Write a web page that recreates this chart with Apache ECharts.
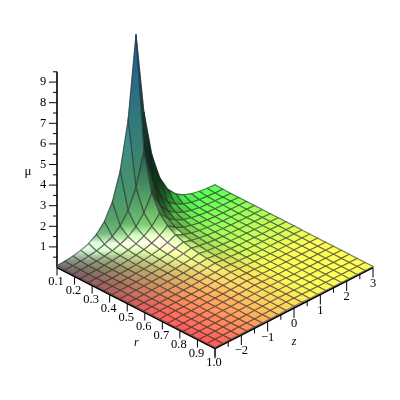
<!DOCTYPE html>
<html><head><meta charset="utf-8">
<style>html,body{margin:0;padding:0;background:#fff}#c{width:400px;height:400px}</style>
<script src="https://cdn.jsdelivr.net/npm/echarts@6/dist/echarts.min.js"></script>
</head><body><div id="c"></div>
<script>
const rValues=[0.1,0.145,0.19,0.235,0.28,0.325,0.37,0.415,0.46,0.505,0.55,0.595,0.64,0.685,0.73,0.775,0.82,0.865,0.91,0.955,1.0];
const zValues=[-3,-2.7,-2.4,-2.1,-1.8,-1.5,-1.2,-0.9,-0.6,-0.3,0,0.3,0.6,0.9,1.2,1.5,1.8,2.1,2.4,2.7,3];
const muGrid=[
[.09,.11,.16,.24,.38,.63,1.06,1.81,3.12,5.39,9.35,5.39,3.12,1.81,1.06,.63,.38,.24,.16,.11,.09],
[.07,.08,.11,.15,.21,.33,.52,.84,1.39,2.31,3.86,2.31,1.39,.84,.52,.33,.21,.15,.11,.08,.07],
[.06,.07,.09,.11,.15,.22,.33,.51,.80,1.27,2.04,1.27,.80,.51,.33,.22,.15,.11,.09,.07,.06],
[.06,.07,.08,.10,.13,.18,.25,.36,.54,.82,1.25,.82,.54,.36,.25,.18,.13,.10,.08,.07,.06],
[.06,.07,.08,.09,.11,.15,.20,.27,.39,.57,.84,.57,.39,.27,.20,.15,.11,.09,.08,.07,.06],
[.06,.07,.07,.09,.10,.13,.17,.22,.30,.42,.60,.42,.30,.22,.17,.13,.10,.09,.07,.07,.06],
[.06,.07,.07,.08,.10,.12,.15,.19,.25,.33,.45,.33,.25,.19,.15,.12,.10,.08,.07,.07,.06],
[.06,.07,.07,.08,.09,.11,.13,.16,.21,.27,.36,.27,.21,.16,.13,.11,.09,.08,.07,.07,.06],
[.06,.06,.07,.08,.09,.10,.12,.14,.18,.22,.29,.22,.18,.14,.12,.10,.09,.08,.07,.06,.06],
[.06,.06,.07,.07,.08,.09,.11,.13,.16,.19,.24,.19,.16,.13,.11,.09,.08,.07,.07,.06,.06],
[.06,.06,.06,.07,.08,.09,.10,.12,.14,.17,.21,.17,.14,.12,.10,.09,.08,.07,.06,.06,.06],
[.05,.06,.06,.07,.07,.08,.09,.11,.13,.15,.18,.15,.13,.11,.09,.08,.07,.07,.06,.06,.05],
[.05,.06,.06,.07,.07,.08,.09,.10,.12,.14,.16,.14,.12,.10,.09,.08,.07,.07,.06,.06,.05],
[.05,.06,.06,.06,.07,.08,.08,.09,.11,.12,.14,.12,.11,.09,.08,.08,.07,.06,.06,.06,.05],
[.05,.05,.06,.06,.07,.07,.08,.09,.10,.11,.13,.11,.10,.09,.08,.07,.07,.06,.06,.05,.05],
[.05,.05,.06,.06,.06,.07,.08,.08,.09,.10,.12,.10,.09,.08,.08,.07,.06,.06,.06,.05,.05],
[.05,.05,.06,.06,.06,.07,.07,.08,.09,.10,.11,.10,.09,.08,.07,.07,.06,.06,.06,.05,.05],
[.05,.05,.05,.06,.06,.06,.07,.08,.08,.09,.10,.09,.08,.08,.07,.06,.06,.06,.05,.05,.05],
[.05,.05,.05,.06,.06,.06,.07,.07,.08,.09,.10,.09,.08,.07,.07,.06,.06,.06,.05,.05,.05],
[.05,.05,.05,.05,.06,.06,.06,.07,.08,.08,.09,.08,.08,.07,.06,.06,.06,.05,.05,.05,.05],
[.05,.05,.05,.05,.06,.06,.06,.07,.07,.08,.09,.08,.07,.07,.06,.06,.06,.05,.05,.05,.05]
];
const rTicks=[0.1,0.2,0.3,0.4,0.5,0.6,0.7,0.8,0.9,1.0];
const rTickLabels=['0.1','0.2','0.3','0.4','0.5','0.6','0.7','0.8','0.9','1.0'];
const zMajorTicks=[-3,-2,-1,0,1,2,3];
const zTickLabels=['','\u22122','\u22121','0','1','2','3'];
const zMinorTicks=[-2.5,-1.5,-0.5,0.5,1.5,2.5];
const muMajorTicks=[1,2,3,4,5,6,7,8,9];
const muMinorTicks=[0.5,1.5,2.5,3.5,4.5,5.5,6.5,7.5,8.5,9.5];

// oblique view of the box: screen position of (r,z,mu)
const VIEW={ox:57,oy:267.5,dx:158,dy:81,muPx:20.6,muTop:9.5};
const R0=rValues[0],R1=rValues[rValues.length-1],Z0=zValues[0],Z1=zValues[zValues.length-1];
function project(r,z,m){
  const u=(r-R0)/(R1-R0),v=(z-Z0)/(Z1-Z0);
  return [VIEW.ox+VIEW.dx*(u+v),VIEW.oy+VIEW.dy*(u-v)-m*VIEW.muPx];
}
// lighting
const LIGHT={L:[0.2,-0.45,0.87],H:[0.3,-0.25,0.9],amb:0.25,kd:0.86,kw:0.4,ks:0.65,n:18,back:0.2,sx:248,sy:37.2,sz:24};
const muMax=9.4;
function norm(a){const l=Math.hypot(a[0],a[1],a[2]);return a.map(v=>v/l);}
const Ln=norm(LIGHT.L),Hn=norm(LIGHT.H);
function vertexColor(i,j){
  const ni=rValues.length,nj=zValues.length;
  const i0=Math.max(i-1,0),i1=Math.min(i+1,ni-1),j0=Math.max(j-1,0),j1=Math.min(j+1,nj-1);
  const dr=(muGrid[i1][j]-muGrid[i0][j])*LIGHT.sz/((rValues[i1]-rValues[i0])*LIGHT.sx);
  const dz=(muGrid[i][j1]-muGrid[i][j0])*LIGHT.sz/((zValues[j1]-zValues[j0])*LIGHT.sy);
  const N=norm([-dr,-dz,1]);
  const D=Math.max(0,N[0]*Ln[0]+N[1]*Ln[1]+N[2]*Ln[2]-LIGHT.back*Math.max(0,N[1]));
  const S=Math.pow(Math.max(0,N[0]*Hn[0]+N[1]*Hn[1]+N[2]*Hn[2]),LIGHT.n);
  const flatS=Math.pow(Hn[2],LIGHT.n);
  const base=[(rValues[i]-R0)/(R1-R0),(zValues[j]-Z0)/(Z1-Z0),muGrid[i][j]/muMax];
  const sp=LIGHT.ks*Math.max(0,S-flatS);
  return base.map(b=>Math.min(1,b*(LIGHT.amb+LIGHT.kd*D)+LIGHT.kw*D+sp));
}
function css(c){return 'rgb('+c.map(v=>Math.round(v*255)).join(',')+')';}
function mix(a,b){return a.map((v,k)=>(v+b[k])/2);}

const cells=[];
for(let i=0;i<rValues.length-1;i++)for(let j=zValues.length-2;j>=0;j--)cells.push([i,j]);

function renderCell(params,api){
  const i=api.value(0),j=api.value(1);
  const ids=[[i,j],[i+1,j],[i+1,j+1],[i,j+1]];
  const pts=ids.map(q=>api.coord(project(rValues[q[0]],zValues[q[1]],muGrid[q[0]][q[1]])));
  const cols=ids.map(q=>vertexColor(q[0],q[1]));
  const top=pts.reduce((a,p,k)=>p[1]<pts[a][1]?k:a,0),bot=pts.reduce((a,p,k)=>p[1]>pts[a][1]?k:a,0);
  const rest=[0,1,2,3].filter(k=>k!==top&&k!==bot);
  const midCol=rest.length===2?mix(cols[rest[0]],cols[rest[1]]):mix(cols[top],cols[bot]);
  const grad=new echarts.graphic.LinearGradient(pts[top][0],pts[top][1],pts[bot][0],pts[bot][1],[
    {offset:0,color:css(cols[top])},{offset:0.5,color:css(midCol)},{offset:1,color:css(cols[bot])}],true);
  return {type:'group',children:[
    {type:'polygon',shape:{points:pts},style:{fill:grad,stroke:grad,lineWidth:0.6}},
    {type:'polygon',shape:{points:pts},style:{fill:'none',stroke:'rgba(40,40,40,0.6)',lineWidth:1.15}}
  ]};
}
const axisSegs=[];
const addSeg=(a,b,w)=>axisSegs.push({a,b,w});
const addText=(p,t,font)=>axisSegs.push({p,t,font});
const TICK=8,MINOR=4,ZTICK=10,ZMINOR=5;
addSeg(project(R0,Z0,0),project(R1,Z0,0),1.6);
addSeg(project(R1,Z0,0),project(R1,Z1,0),1.6);
addSeg(project(R0,Z0,0),project(R0,Z0,VIEW.muTop),1.6);
rTicks.forEach((r,k)=>{const p=project(r,Z0,0);addSeg(p,[p[0],p[1]+TICK],1);addText([p[0]-1,p[1]+14.5],rTickLabels[k]);});
zMajorTicks.forEach((z,k)=>{const p=project(R1,z,0);addSeg(p,[p[0],p[1]+ZTICK],1);if(zTickLabels[k])addText([p[0],p[1]+16],zTickLabels[k]);});
zMinorTicks.forEach(z=>{const p=project(R1,z,0);addSeg(p,[p[0],p[1]+ZMINOR],1);});
muMajorTicks.forEach(m=>{const p=project(R0,Z0,m);addSeg(p,[p[0]-TICK,p[1]],1);addText([p[0]-14,p[1]],String(m));});
muMinorTicks.forEach(m=>{const p=project(R0,Z0,m);addSeg(p,[p[0]-MINOR,p[1]],1);});
addText(project(0.5,-3,0).map((v,k)=>v+[9,39][k]),'r','italic 12px "Liberation Serif"');
addText(project(1,0,0).map((v,k)=>v+[0,34][k]),'z','italic 12px "Liberation Serif"');
addText(project(R0,Z0,4.65).map((v,k)=>v+[-29,0][k]),'\u03bc','13px "Liberation Serif"');

function renderAxis(params,api){
  const s=axisSegs[api.value(0)];
  if(s.t!==undefined){
    const c=api.coord(s.p);
    return {type:'text',x:c[0],y:c[1],style:{text:s.t,font:s.font||'12.5px "Liberation Serif"',fill:'#000',align:'center',verticalAlign:'middle'}};
  }
  const a=api.coord(s.a),b=api.coord(s.b);
  return {type:'line',shape:{x1:a[0],y1:a[1],x2:b[0],y2:b[1]},style:{stroke:'#000',lineWidth:s.w}};
}
const chart=echarts.init(document.getElementById('c'),null,{renderer:'canvas'});
chart.setOption({
  animation:false,
  grid:{left:0,right:0,top:0,bottom:0},
  xAxis:{type:'value',min:0,max:400,show:false},
  yAxis:{type:'value',min:0,max:400,inverse:true,show:false},
  series:[
   {type:'custom',coordinateSystem:'cartesian2d',renderItem:renderAxis,data:axisSegs.map((s,k)=>[k]),encode:{x:[],y:[]},silent:true,z:1,clip:false,animation:false},
   {type:'custom',coordinateSystem:'cartesian2d',renderItem:renderCell,data:cells,encode:{x:[],y:[]},silent:true,z:2,clip:false,progressive:0,animation:false}
  ]
});
</script></body></html>
